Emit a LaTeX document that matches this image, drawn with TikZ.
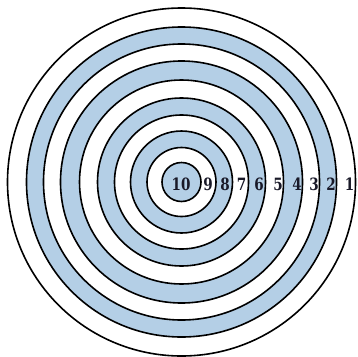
\documentclass[tikz,border=0pt]{standalone}
\usepackage{fontspec}
\usepackage{graphicx}
\usepackage{xcolor}
\newfontfamily\digfont{DejaVu Serif}
\definecolor{ringblue}{RGB}{180,207,230}
\definecolor{digit}{RGB}{25,25,40}
\newcommand{\dig}[1]{\scalebox{0.8}[1]{\digfont\fontsize{17}{17}\selectfont\bfseries #1}}
\begin{document}
\begin{tikzpicture}[x=1bp,y=-1bp,
  ring/.style={draw=black,line width=1.6bp},
  num/.style={inner sep=0pt,text=digit}]
\useasboundingbox (0,0) rectangle (358,357);
\coordinate (c) at (181.5,182);
\foreach \r/\col in {174/white,155/ringblue,138/white,121/ringblue,102/white,84/ringblue,67/white,51/ringblue,34.5/white,19.5/ringblue}{
  \draw[ring,fill=\col] (c) circle[radius=\r];
}
\node[num] (n10) at (181,184.5) {\dig{10}};
\node[num] (n9) at (208,184.5) {\dig{9}};
\node[num] (n8) at (225,184.5) {\dig{8}};
\node[num] (n7) at (241.5,184.5) {\dig{7}};
\node[num] (n6) at (259,184.5) {\dig{6}};
\node[num] (n5) at (278,184.5) {\dig{5}};
\node[num] (n4) at (297,184.5) {\dig{4}};
\node[num] (n3) at (314,184.5) {\dig{3}};
\node[num] (n2) at (331,184.5) {\dig{2}};
\node[num] (n1) at (349.5,184.5) {\dig{1}};
\end{tikzpicture}
\end{document}
